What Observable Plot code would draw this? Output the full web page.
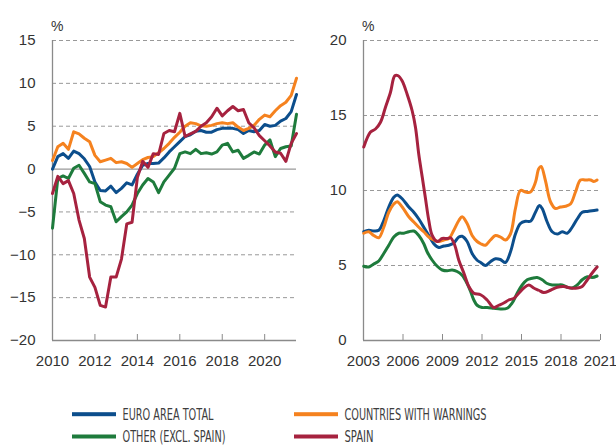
<!DOCTYPE html>
<html><head><meta charset="utf-8">
<script src="https://cdn.jsdelivr.net/npm/d3@7"></script>
<script src="https://cdn.jsdelivr.net/npm/@observablehq/plot@0.6"></script>
<style>
html,body{margin:0;padding:0;background:#fff;}
#wrap{position:relative;width:616px;height:445px;overflow:hidden;font-family:"Liberation Sans",Arial,sans-serif;}
#left{position:absolute;left:0;top:0;}
#right{position:absolute;left:310px;top:0;}
#legend{position:absolute;left:0;top:390px;overflow:hidden;}
</style></head><body>
<div id="wrap"><div id="left"></div><div id="right"></div><svg id="legend" width="616" height="55"></svg></div>
<script>
// ---- Series names & colours ----
const seriesNames = ["EURO AREA TOTAL", "COUNTRIES WITH WARNINGS", "OTHER (EXCL. SPAIN)", "SPAIN"];
const seriesColors = ["#0c4e8c", "#f5821f", "#1e7b3c", "#a6223f"];

// ---- Left panel: quarterly, 2010Q1 .. 2021Q3 (%) ----
const leftTicksX = [2010, 2012, 2014, 2016, 2018, 2020];
const leftTicksY = [-20, -15, -10, -5, 0, 5, 10, 15];
const leftEuro = [0.0,1.45,1.8,1.25,2.1,1.8,1.2,0.3,-1.5,-2.5,-2.55,-2.0,-2.75,-2.25,-1.6,-1.85,-0.6,0.45,0.65,0.65,0.7,1.3,2.0,2.6,3.2,3.8,4.0,4.4,4.5,4.3,4.3,4.6,4.75,4.75,4.75,4.6,4.15,4.5,4.35,4.5,5.2,5.0,5.1,5.6,5.9,6.7,8.7];
const leftWarn = [1.0,2.6,3.0,2.3,4.35,4.1,3.6,3.2,1.6,0.85,1.05,1.25,0.75,0.85,0.65,0.2,0.65,1.1,1.35,1.45,1.9,2.4,3.0,3.7,4.3,5.0,5.4,5.3,5.05,5.0,5.1,5.3,5.4,5.3,5.4,4.9,4.5,4.75,5.1,5.8,6.3,6.1,6.8,7.4,7.8,8.6,10.6];
const leftOther = [-6.9,-1.1,-0.8,-1.1,0.1,0.45,-0.5,-1.5,-1.7,-3.8,-4.2,-4.4,-6.15,-5.55,-5.0,-4.2,-2.85,-1.85,-1.1,-1.5,-2.75,-1.5,-0.7,0.1,1.8,2.0,1.8,2.3,1.8,1.9,1.75,2.0,2.8,3.0,2.0,2.2,1.25,1.6,2.0,1.75,2.8,3.4,1.45,2.4,2.6,2.7,6.4];
const leftSpain = [-2.85,-0.85,-1.7,-1.35,-2.85,-5.95,-8.1,-12.6,-13.8,-15.9,-16.1,-12.6,-12.6,-10.5,-6.4,-6.2,-1.0,0.9,0.2,1.8,1.7,4.15,4.5,4.35,6.5,3.8,4.1,4.4,5.0,5.4,6.1,7.1,6.2,6.8,7.3,6.8,6.95,5.4,4.8,3.9,3.3,2.7,2.0,1.85,0.9,3.0,4.15];
const leftDates = leftEuro.map((_, i) => 2010 + i * 0.25);

// ---- Right panel: 2003 .. 2020 (%) ----
const rightTicksX = [2003, 2006, 2009, 2012, 2015, 2018, 2021];
const rightTicksY = [0, 5, 10, 15, 20];
const rightEuroT = [2003.02,2003.40,2003.78,2004.16,2004.54,2004.92,2005.30,2005.56,2005.94,2006.44,2006.82,2007.20,2007.58,2007.96,2008.34,2008.72,2009.10,2009.48,2009.86,2010.24,2010.49,2010.87,2011.25,2011.63,2011.90,2012.26,2012.64,2013.02,2013.40,2013.78,2014.16,2014.54,2014.92,2015.30,2015.68,2016.06,2016.36,2016.57,2016.95,2017.33,2017.71,2018.09,2018.47,2018.85,2019.23,2019.61,2020.00,2020.36,2020.74];
const rightEuroV = [7.25,7.35,7.3,7.35,8.0,8.9,9.55,9.7,9.45,8.9,8.55,8.1,7.55,7.0,6.45,6.2,6.3,6.35,6.5,6.9,6.95,6.6,5.8,5.35,5.2,5.0,5.25,5.45,5.4,5.2,5.9,7.1,7.8,7.95,7.95,8.55,9.0,8.8,7.9,7.25,7.1,7.25,7.15,7.55,8.1,8.55,8.6,8.65,8.7];
const rightWarnT = [2003.02,2003.40,2003.78,2004.16,2004.54,2004.92,2005.30,2005.56,2005.94,2006.44,2006.82,2007.20,2007.58,2007.96,2008.34,2008.72,2009.10,2009.48,2009.86,2010.24,2010.49,2010.87,2011.25,2011.63,2011.90,2012.26,2012.64,2013.02,2013.40,2013.78,2014.16,2014.54,2014.92,2015.30,2015.68,2016.06,2016.31,2016.49,2016.82,2017.20,2017.58,2017.96,2018.34,2018.72,2019.10,2019.48,2019.86,2020.25,2020.49,2020.74];
const rightWarnV = [7.15,7.25,7.0,6.85,7.55,8.55,9.1,9.25,8.9,8.25,7.9,7.55,7.25,6.9,6.7,6.6,6.7,6.8,7.35,8.0,8.25,7.8,7.0,6.6,6.45,6.35,6.7,7.0,6.9,6.7,7.1,8.8,10.0,9.9,9.9,10.55,11.45,11.6,10.65,9.25,8.8,8.9,8.95,9.1,9.9,10.7,10.7,10.7,10.6,10.7];
const rightOtherT = [2003.02,2003.40,2003.78,2004.16,2004.54,2004.92,2005.30,2005.68,2006.06,2006.44,2006.82,2007.20,2007.58,2007.84,2008.22,2008.60,2008.98,2009.36,2009.73,2010.11,2010.49,2010.87,2011.12,2011.38,2011.63,2012.00,2012.39,2012.89,2013.40,2013.91,2014.29,2014.67,2015.05,2015.43,2015.81,2016.19,2016.57,2016.95,2017.33,2017.71,2018.09,2018.47,2018.85,2019.23,2019.61,2020.00,2020.36,2020.74];
const rightOtherV = [4.95,4.9,5.1,5.3,5.8,6.35,6.9,7.15,7.15,7.25,7.3,7.0,6.45,5.9,5.35,4.95,4.7,4.65,4.7,4.6,4.35,3.8,3.3,2.7,2.35,2.2,2.2,2.15,2.1,2.15,2.5,3.15,3.7,4.05,4.15,4.2,4.05,3.8,3.7,3.7,3.7,3.55,3.5,3.7,4.05,4.25,4.2,4.3];
const rightSpainT = [2003.02,2003.53,2003.91,2004.29,2004.67,2005.05,2005.38,2005.63,2005.94,2006.32,2006.70,2006.95,2007.20,2007.46,2007.71,2007.96,2008.22,2008.60,2008.98,2009.36,2009.61,2009.93,2010.24,2010.62,2011.00,2011.38,2011.89,2012.39,2012.89,2013.27,2013.65,2014.03,2014.41,2014.79,2015.17,2015.55,2015.93,2016.31,2016.69,2017.20,2017.71,2018.21,2018.72,2019.23,2019.61,2020.00,2020.37,2020.74];
const rightSpainV = [12.9,13.9,14.1,14.55,15.55,16.55,17.65,17.65,17.3,16.4,15.3,14.2,12.4,10.9,9.45,8.0,7.0,6.6,6.8,6.8,6.85,6.35,5.35,4.5,3.6,3.15,3.05,2.7,2.2,2.35,2.5,2.7,2.8,3.15,3.5,3.7,3.5,3.35,3.2,3.35,3.55,3.6,3.5,3.5,3.6,4.05,4.5,4.9];

// ---- Build tidy tables ----
function rows(ts, vs, series) { return ts.map((t, i) => ({t, v: vs[i], series})); }
const leftData = [
  ...rows(leftDates, leftEuro, seriesNames[0]),
  ...rows(leftDates, leftWarn, seriesNames[1]),
  ...rows(leftDates, leftOther, seriesNames[2]),
  ...rows(leftDates, leftSpain, seriesNames[3])
];
const rightData = [
  ...rows(rightEuroT, rightEuroV, seriesNames[0]),
  ...rows(rightWarnT, rightWarnV, seriesNames[1]),
  ...rows(rightOtherT, rightOtherV, seriesNames[2]),
  ...rows(rightSpainT, rightSpainV, seriesNames[3])
];

const FONT = '"Liberation Sans", Arial, Helvetica, sans-serif';
const H = 375, MT = 40, MB = 35;

function panel({width, marginLeft, marginRight, xDomain, xTicks, yDomain, yTicks, dashed, solid, data, curve}) {
  return Plot.plot({
    width, height: H, marginTop: MT, marginBottom: MB, marginLeft, marginRight,
    style: {fontFamily: FONT, fontSize: "15px", color: "#333", overflow: "visible", background: "transparent"},
    x: {domain: xDomain, label: null},
    y: {domain: yDomain, label: null},
    color: {domain: seriesNames, range: seriesColors},
    marks: [
      Plot.ruleY(dashed, {stroke: "#999", strokeDasharray: "4,3", strokeWidth: 1}),
      Plot.ruleY(solid, {stroke: "#999", strokeWidth: 1.3}),
      Plot.ruleY([yDomain[0]], {stroke: "#8a8a8a", strokeWidth: 1.3}),
      Plot.ruleX([xDomain[0]], {stroke: "#8a8a8a", strokeWidth: 1.3}),
      Plot.ruleX(xTicks, {stroke: "#8a8a8a", strokeWidth: 1, insetTop: H - MT - MB - 6}),
      Plot.axisX({ticks: xTicks, tickSize: 0, tickPadding: 15, tickFormat: "d", fill: "#333", fontSize: 15}),
      Plot.axisY({ticks: yTicks, tickSize: 0, tickPadding: 17, fill: "#333", fontSize: 15}),
      Plot.line(data, {x: "t", y: "v", z: "series", stroke: "series", strokeWidth: 3, curve, strokeLinejoin: "round"}),
      Plot.text(["%"], {text: d => d, frameAnchor: "top-left", dy: -19, dx: -1.5, textAnchor: "start", fontSize: 14, fill: "#333"})
    ]
  });
}

document.getElementById("left").append(panel({
  width: 310, marginLeft: 52, marginRight: 14,
  xDomain: [2010, 2021.5], xTicks: leftTicksX,
  yDomain: [-20, 15], yTicks: leftTicksY,
  dashed: [-15, -10, -5, 5, 10, 15], solid: [0],
  data: leftData, curve: "linear"
}));

document.getElementById("right").append(panel({
  width: 306, marginLeft: 53, marginRight: 16,
  xDomain: [2003, 2021], xTicks: rightTicksX,
  yDomain: [0, 20], yTicks: rightTicksY,
  dashed: [5, 10, 15, 20], solid: [],
  data: rightData, curve: "catmull-rom"
}));

// ---- Legend ----
const legendLayout = [
  {name: seriesNames[0], col: 0, row: 0, w: 91},
  {name: seriesNames[1], col: 1, row: 0, w: 142},
  {name: seriesNames[2], col: 0, row: 1, w: 103},
  {name: seriesNames[3], col: 1, row: 1, w: 29}
];
const colX = [72, 294], rowY = [24.2, 46.5];
const lg = d3.select("#legend");
legendLayout.forEach((d) => {
  const c = seriesColors[seriesNames.indexOf(d.name)];
  lg.append("rect").attr("x", colX[d.col]).attr("y", rowY[d.row] - 2).attr("width", 44).attr("height", 4).attr("fill", c);
  lg.append("text").attr("x", colX[d.col] + 50.5).attr("y", rowY[d.row] + 5.3)
    .attr("font-family", '"Liberation Sans Narrow", "DejaVu Sans Condensed", "Liberation Sans", sans-serif')
    .attr("font-size", 15).attr("fill", "#3d3d3d")
    .attr("textLength", d.w).attr("lengthAdjust", "spacingAndGlyphs")
    .text(d.name);
});
</script>
</body></html>
